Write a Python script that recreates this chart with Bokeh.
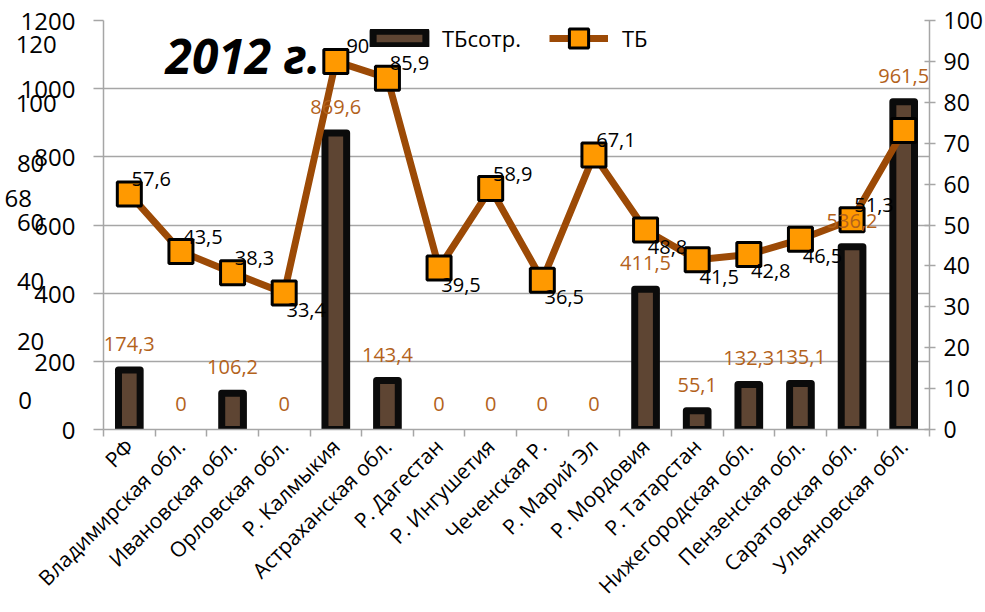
from math import pi
from bokeh.plotting import figure
from bokeh.models import (Range1d, LinearAxis, FixedTicker, Label, ColumnDataSource,
                          Legend, LegendItem)
from bokeh.embed import file_html
from bokeh.resources import INLINE
from bokeh.core.properties import value

# ---------------- data ----------------
categories = ["РФ", "Владимирская обл.", "Ивановская обл.", "Орловская обл.",
              "Р. Калмыкия", "Астраханская обл.", "Р. Дагестан", "Р. Ингушетия",
              "Чеченская Р.", "Р. Марий Эл", "Р. Мордовия", "Р. Татарстан",
              "Нижегородская обл.", "Пензенская обл.", "Саратовская обл.", "Ульяновская обл."]
tb_sotr = [174.3, 0, 106.2, 0, 869.6, 143.4, 0, 0, 0, 0, 411.5, 55.1, 132.3, 135.1, 536.2, 961.5]
tb = [57.6, 43.5, 38.3, 33.4, 90, 85.9, 39.5, 58.9, 36.5, 67.1, 48.8, 41.5, 42.8, 46.5, 51.3, 73.1]
left_ticks = [0, 200, 400, 600, 800, 1000, 1200]
right_ticks = [0, 10, 20, 30, 40, 50, 60, 70, 80, 90, 100]
extra_left_ticks = [0, 20, 40, 60, 80, 100, 120]   # ghost axis of another chart
stray_value = 68                                    # ghost data label
series_names = ["ТБсотр.", "ТБ"]
title_text = "2012 г."

# label placement for the line series (style, not data)
tb_label_side = ["above", "above", "above", "below", "above", "above", "below", "above",
                 "below", "above", "below", "below", "below", "below", "above", "right"]

FONT = "Open Sans"
GRID = "#A6A6A6"
BAR_FILL = "#5E4533"
LINE_COL = "#9C4A06"
MARK_COL = "#FF9900"
BAR_LAB = "#B3621B"
NBSP = "\u00a0"


def fmt(v):
    if float(v).is_integer():
        return str(int(v))
    return ("%g" % v).replace(".", ",")


n = len(categories)
idx = list(range(n))

# ghost axis (0..120) spans the frame from 30px above its bottom to 23px below its top;
# map its values onto the main (0..1200) scale
SEC_LO, SEC_HI = -10.0, 127.67


def sec_to_main(s):
    return round((s - SEC_LO) / (SEC_HI - SEC_LO) * 1200, 2)


def ghost_text(s, right_edge_px=60):
    t = fmt(s)
    pad = max(0, round((right_edge_px - 13.7 * len(t)) / 6.2))
    return t + NBSP * pad


p = figure(width=985, height=612, x_range=Range1d(-0.5, n - 0.5), y_range=Range1d(0, 1200),
           output_backend="svg", toolbar_location=None,
           min_border_left=103, min_border_right=42, min_border_top=20, min_border_bottom=179)
p.extra_y_ranges = {"tb": Range1d(0, 100)}
p.outline_line_color = None
p.background_fill_color = "white"
p.border_fill_color = "white"

# x axis
xa = p.xaxis[0]
xa.ticker = FixedTicker(ticks=idx, minor_ticks=[i - 0.5 for i in range(n + 1)])
xa.major_label_overrides = {i: c for i, c in zip(idx, categories)}
xa.major_label_orientation = pi / 4
xa.major_tick_line_color = None
xa.major_tick_out = 7
xa.minor_tick_line_color = GRID
xa.minor_tick_line_width = 1.5
xa.minor_tick_out = 7
xa.minor_tick_in = 0
xa.axis_line_color = GRID
xa.axis_line_width = 1.5
xa.major_label_text_font = FONT
xa.major_label_text_font_size = "21px"
xa.major_label_text_color = "black"
xa.major_label_standoff = 6

# left axis: real ticks + ghost labels of the hidden 0..120 axis
ghost_pos = [sec_to_main(s) for s in extra_left_ticks]
stray_pos = sec_to_main(stray_value)
overrides = {t: str(t) for t in left_ticks}
for s, pos in zip(extra_left_ticks, ghost_pos):
    overrides[pos] = ghost_text(s)
overrides[stray_pos] = fmt(stray_value) + NBSP * 7

ya = p.yaxis[0]
ya.ticker = FixedTicker(ticks=left_ticks + ghost_pos + [stray_pos], minor_ticks=left_ticks)
ya.major_label_overrides = overrides
ya.major_tick_line_color = None
ya.major_tick_out = 10
ya.major_tick_in = 0
ya.minor_tick_line_color = GRID
ya.minor_tick_line_width = 1.5
ya.minor_tick_out = 10
ya.minor_tick_in = 0
ya.axis_line_color = GRID
ya.axis_line_width = 1.5
ya.major_label_text_font = FONT
ya.major_label_text_font_size = "24px"
ya.major_label_text_color = "black"
ya.major_label_standoff = 18

# right axis
ra = LinearAxis(y_range_name="tb", ticker=FixedTicker(ticks=right_ticks))
ra.major_tick_out = 6
ra.major_tick_in = 5
ra.major_tick_line_color = GRID
ra.major_tick_line_width = 1.5
ra.minor_tick_line_color = None
ra.axis_line_color = GRID
ra.axis_line_width = 1.5
ra.major_label_text_font = FONT
ra.major_label_text_font_size = "23px"
ra.major_label_text_color = "black"
ra.major_label_standoff = 8
p.add_layout(ra, "right")

# grid
p.xgrid.visible = False
p.ygrid.ticker = FixedTicker(ticks=left_ticks)
p.ygrid.grid_line_color = GRID
p.ygrid.grid_line_width = 1.5

# bars (zero-valued bars are not drawn)
bar_src = ColumnDataSource(dict(x=[i for i, v in zip(idx, tb_sotr) if v > 0],
                                top=[v for v in tb_sotr if v > 0]))
bars = p.vbar(x="x", top="top", source=bar_src, width=0.42, fill_color=BAR_FILL,
              line_color="#0B0B0B", line_width=7, line_join="round")

# line + markers
ln = p.line(idx, tb, y_range_name="tb", line_color=LINE_COL, line_width=7)
mk = p.scatter(idx, tb, y_range_name="tb", marker="square", size=24, fill_color=MARK_COL,
               line_color="black", line_width=3)

# bar labels
p.text(idx, tb_sotr, text=[fmt(v) for v in tb_sotr], text_align="center", text_baseline="middle",
       y_offset=-26, text_color=BAR_LAB, text_font=value(FONT), text_font_size="20px")

# line labels
for side, dx, dy, align in [("above", 22, -15, "center"), ("below", 22, 17, "center"),
                            ("right", 30, 2, "left")]:
    xs = [i for i, s in zip(idx, tb_label_side) if s == side]
    ys = [v for v, s in zip(tb, tb_label_side) if s == side]
    p.text(xs, ys, y_range_name="tb", text=[fmt(v) for v in ys], text_align=align,
           text_baseline="middle", x_offset=dx, y_offset=dy, text_color="black",
           text_font=value(FONT), text_font_size="20px")

# title
p.add_layout(Label(x=62, x_units="screen", y=1098, text=title_text, text_align="left",
                   text_baseline="middle", text_font=FONT, text_font_size="48px",
                   text_font_style="bold italic", text_color="black"))

# legends (two, so each glyph gets its own size)
common = dict(orientation="horizontal", background_fill_alpha=0, border_line_color=None,
              label_text_font=FONT, label_text_font_size="22px", label_text_color="black",
              padding=0, margin=0, spacing=0)
lg1 = Legend(items=[LegendItem(label=series_names[0], renderers=[bars])],
             location=(263, 376), glyph_width=66, glyph_height=18, label_height=18,
             label_standoff=10, **common)
lg2 = Legend(items=[LegendItem(label=series_names[1], renderers=[ln, mk])],
             location=(446, 367), glyph_width=59, glyph_height=48, label_height=48,
             label_standoff=14, **common)
p.add_layout(lg1, "center")
p.add_layout(lg2, "center")

open("out.html", "w").write(file_html(p, INLINE))
